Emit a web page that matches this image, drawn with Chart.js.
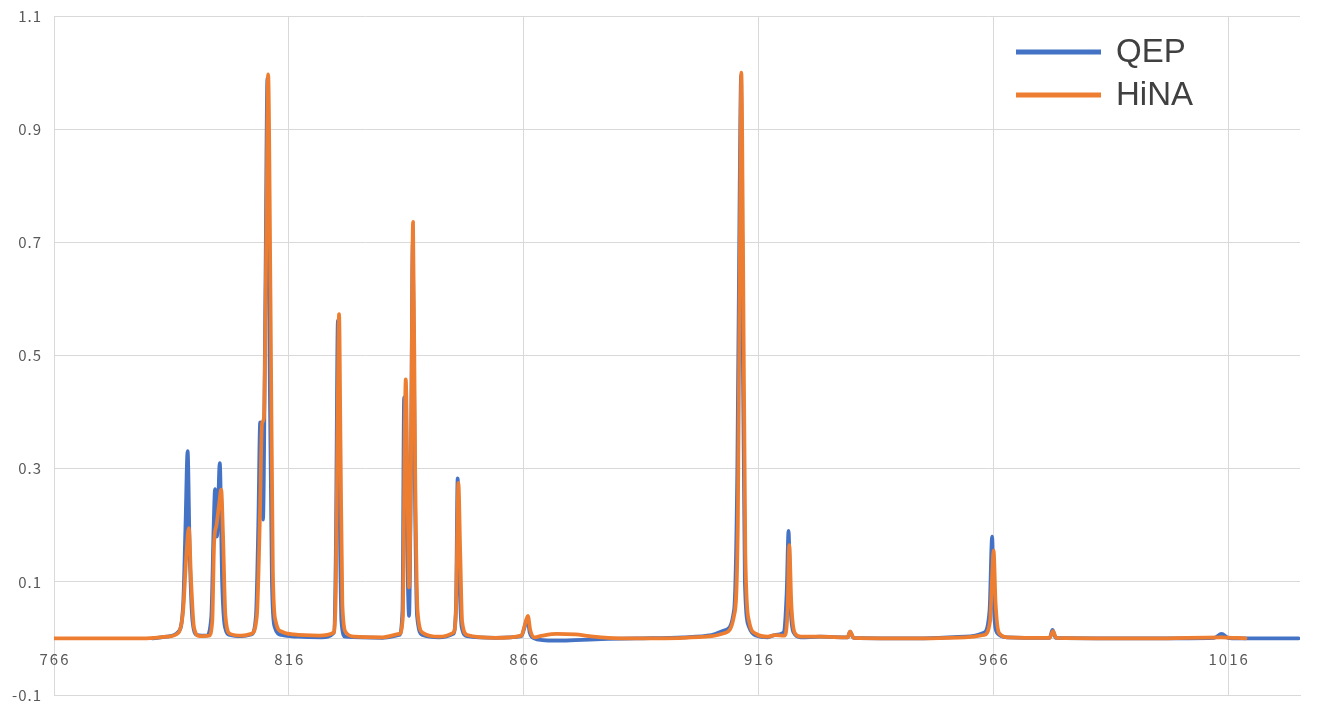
<!DOCTYPE html>
<html>
<head>
<meta charset="utf-8">
<script src="https://cdn.jsdelivr.net/npm/chart.js@4.4.1/dist/chart.umd.min.js"></script>
<style>
  html, body { margin: 0; padding: 0; background: #fff; }
  #wrap { width: 1338px; height: 715px; position: relative; }
</style>
</head>
<body>
<div id="wrap"><canvas id="chart-spectrum"></canvas></div>
<script>
// wavelength (nm) / normalised intensity
const qepWl = [787, 790, 792.5, 793.5, 794.0, 794.45, 794.9, 795.5, 796.5, 798.5, 799.5, 800.0, 800.3, 800.7, 801.3, 801.8, 802.4, 803.5,
  806, 808, 809, 809.5, 809.9, 810.5, 811.0, 811.45, 811.9, 812.4, 813.0, 814.5, 818, 823, 825.6, 826.0, 826.45, 826.8, 827.2, 828,
  836, 839.5, 840.2, 840.55, 841.1, 841.6, 842.0, 842.4, 842.8, 843.3, 844.5, 848, 851, 851.6, 851.95, 852.3, 852.8, 854, 860,
  865.5, 866.2, 866.8, 867.3, 868.3, 870, 873, 877, 880, 884, 890, 900, 906, 909, 910.8, 911.5, 912.0, 912.3, 912.6, 913.1, 914,
  915.5, 918, 919.5, 921.3, 922.0, 922.4, 922.8, 923.5, 925, 929.1, 935, 935.5, 936.2, 950, 960, 964, 965.2, 965.75, 966.1, 966.8,
  969, 978, 978.6, 979.3, 1000, 1013, 1014.6, 1016, 1018, 1031];
const qepVal = [0, 0.003, 0.012, 0.06, 0.2, 0.331, 0.15, 0.03, 0.006, 0.005, 0.04, 0.2, 0.264, 0.18, 0.31, 0.1, 0.02, 0.006,
  0.004, 0.007, 0.04, 0.2, 0.382, 0.21, 0.6, 0.99, 0.5, 0.1, 0.02, 0.006, 0.003, 0.002, 0.01, 0.15, 0.562, 0.25, 0.03, 0.003,
  0.001, 0.006, 0.05, 0.426, 0.2, 0.04, 0.3, 0.70, 0.3, 0.04, 0.006, 0.002, 0.008, 0.06, 0.283, 0.12, 0.02, 0.004, 0.001,
  0.004, 0.02, 0.036, 0.01, 0, -0.003, -0.004, -0.003, -0.002, -0.001, 0, 0.002, 0.006, 0.015, 0.05, 0.3, 0.8, 0.995, 0.6, 0.1, 0.02,
  0.005, 0.002, 0.006, 0.01, 0.08, 0.19, 0.06, 0.01, 0.002, 0.003, 0.002, 0.012, 0.001, 0, 0.003, 0.01, 0.05, 0.18, 0.06, 0.01,
  0.002, 0.001, 0.015, 0.001, 0, 0.001, 0.008, 0.001, 0, 0];

const hinaWl = [766, 785, 790, 792.5, 793.5, 794.2, 794.7, 795.2, 795.8, 797, 799, 799.7, 800.1, 800.6, 801.2, 801.6, 802.0, 802.5, 803.5,
  806, 808, 809.2, 809.8, 810.3, 810.7, 811.2, 811.6, 812.1, 812.6, 813.2, 814.5, 817, 822.5, 825.5, 826.0, 826.4, 826.7, 827.0, 827.4, 828.2,
  830, 836, 839.5, 840.3, 840.6, 840.9, 841.3, 841.6, 842.0, 842.45, 842.9, 843.4, 844.5, 848, 851, 851.6, 851.9, 852.1, 852.5, 852.9,
  854, 860, 865.5, 866.3, 866.9, 867.4, 868.3, 870, 873, 877, 880, 884, 890, 900, 906, 909, 910.8, 911.6, 912.05, 912.35, 912.7, 913.2, 914,
  915.5, 918, 919.5, 921.5, 922.2, 922.55, 923.0, 923.7, 925, 929.1, 935, 935.5, 936.3, 950, 960, 964, 965.3, 965.8, 966.05, 966.5, 967.2,
  969, 978, 978.7, 979.4, 1000, 1014.5, 1019.7];
const hinaVal = [0, 0, 0.003, 0.01, 0.05, 0.15, 0.195, 0.1, 0.02, 0.004, 0.005, 0.03, 0.17, 0.2, 0.24, 0.263, 0.18, 0.04, 0.008,
  0.005, 0.008, 0.04, 0.2, 0.38, 0.39, 0.7, 0.997, 0.6, 0.12, 0.03, 0.012, 0.007, 0.005, 0.01, 0.08, 0.4, 0.573, 0.35, 0.06, 0.01,
  0.003, 0.002, 0.008, 0.04, 0.3, 0.458, 0.25, 0.09, 0.3, 0.736, 0.3, 0.05, 0.01, 0.003, 0.01, 0.05, 0.2, 0.275, 0.15, 0.03,
  0.006, 0.001, 0.005, 0.025, 0.04, 0.015, 0.002, 0.005, 0.008, 0.007, 0.004, 0.001, 0, 0.001, 0.004, 0.01, 0.04, 0.2, 0.7, 1.0, 0.7, 0.15, 0.03,
  0.008, 0.003, 0.006, 0.005, 0.05, 0.165, 0.06, 0.01, 0.003, 0.003, 0.002, 0.012, 0.001, 0, 0.002, 0.006, 0.03, 0.12, 0.155, 0.06, 0.01,
  0.002, 0.001, 0.013, 0.001, 0, 0.002, 0];

const seriesNames = ["QEP", "HiNA"];
const xTicks = [766, 816, 866, 916, 966, 1016];
const yTicks = [-0.1, 0.1, 0.3, 0.5, 0.7, 0.9, 1.1];

const tickFont = "15px 'Noto Sans CJK JP', 'DejaVu Sans', sans-serif";
const gridColor = "#d9d9d9";

const toPts = (xs, ys) => xs.map((x, i) => ({ x, y: ys[i] }));

// tick labels + axis line at 0 + legend, drawn by hand like the Excel original
const excelDecor = {
  id: "excelDecor",
  beforeDatasetsDraw(chart) {
    const { ctx, chartArea, scales } = chart;
    const y0 = scales.y.getPixelForValue(0);
    ctx.save();
    ctx.strokeStyle = gridColor;
    ctx.lineWidth = 1;
    ctx.beginPath();
    ctx.moveTo(chartArea.left, Math.round(y0) + 0.5);
    ctx.lineTo(chartArea.right, Math.round(y0) + 0.5);
    ctx.stroke();
    ctx.restore();
  },
  afterDraw(chart) {
    const { ctx, chartArea, scales } = chart;
    const y0 = scales.y.getPixelForValue(0);
    ctx.save();
    ctx.font = tickFont;
    ctx.fillStyle = "#595959";
    ctx.letterSpacing = "2px";
    ctx.textBaseline = "middle";
    ctx.textAlign = "center";
    xTicks.forEach((t) => {
      ctx.fillText(String(t), scales.x.getPixelForValue(t) + 1, y0 + 21);
    });
    ctx.textAlign = "right";
    ctx.letterSpacing = "1px";
    yTicks.forEach((t) => {
      ctx.fillText(t.toFixed(1), chartArea.left - 12, scales.y.getPixelForValue(t));
    });

    // legend
    ctx.letterSpacing = "0px";
    ctx.textAlign = "left";
    ctx.font = "33px 'Liberation Sans', Arial, sans-serif";
    const rows = [52, 95];
    chart.data.datasets.forEach((ds, i) => {
      const ly = rows[i];
      ctx.strokeStyle = ds.borderColor;
      ctx.lineWidth = 5;
      ctx.beginPath();
      ctx.moveTo(1016, ly);
      ctx.lineTo(1101, ly);
      ctx.stroke();
      ctx.fillStyle = "#404040";
      ctx.fillText(ds.label, 1116, ly + 1);
    });
    ctx.restore();
  },
};

const lineStyle = {
  borderWidth: 3.75,
  pointRadius: 0,
  cubicInterpolationMode: "monotone",
  borderJoinStyle: "round",
  borderCapStyle: "round",
};

new Chart(document.getElementById("chart-spectrum"), {
  type: "line",
  data: {
    datasets: [
      { label: seriesNames[0], data: toPts(qepWl, qepVal), borderColor: "#4472c4", order: 1, ...lineStyle },
      { label: seriesNames[1], data: toPts(hinaWl, hinaVal), borderColor: "#ed7d31", order: 0, ...lineStyle },
    ],
  },
  options: {
    responsive: true,
    maintainAspectRatio: false,
    animation: false,
    layout: { padding: { left: 54, right: 38, top: 16, bottom: 20 } },
    plugins: { legend: { display: false }, tooltip: { enabled: false } },
    scales: {
      x: {
        type: "linear",
        min: 766,
        max: 1031.3,
        afterBuildTicks(scale) { scale.ticks = xTicks.map((v) => ({ value: v })); },
        ticks: { display: false },
        grid: { color: gridColor, drawTicks: false },
        border: { color: gridColor },
      },
      y: {
        min: -0.1,
        max: 1.1,
        afterBuildTicks(scale) { scale.ticks = yTicks.map((v) => ({ value: v })); },
        ticks: { display: false },
        grid: { color: gridColor, drawTicks: false },
        border: { display: false },
      },
    },
  },
  plugins: [excelDecor],
});
</script>
</body>
</html>
